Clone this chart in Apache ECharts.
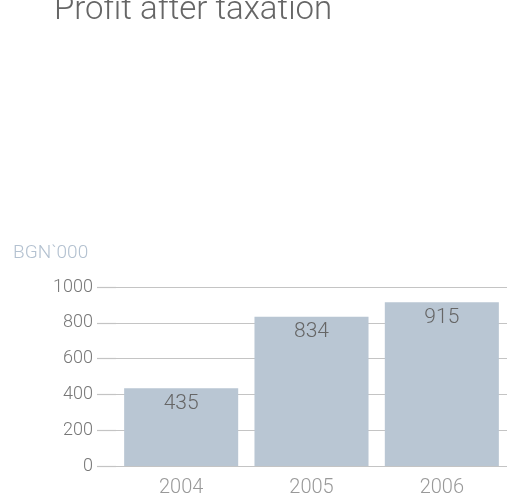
<!DOCTYPE html>
<html><head><meta charset="utf-8">
<script src="https://cdn.jsdelivr.net/npm/echarts@6/dist/echarts.min.js"></script>
<style>html,body{margin:0;padding:0;background:#fff}#c{width:507px;height:494px}</style>
</head><body><div id="c"></div>
<script>
const categories = ['2004', '2005', '2006'];
const profit = [435, 834, 915];
const yTicks = [0, 200, 400, 600, 800, 1000];

const chart = echarts.init(document.getElementById('c'));
chart.setOption({
  animation: false,
  title: {
    text: 'Profit after taxation',
    left: 49, top: -11,
    textStyle: { fontFamily: 'Roboto', fontSize: 33, fontWeight: 300, color: '#666' }
  },
  graphic: [{
    type: 'text', left: 13, top: 244,
    style: { text: 'BGN`000', fontFamily: 'Roboto', fontWeight: 300, fontSize: 19, fill: '#b3c1d0' }
  }],
  grid: { left: 116, right: 0, top: 287, bottom: 28, outerBoundsMode: 'none', containLabel: false },
  xAxis: {
    type: 'category', data: categories,
    axisLine: { show: false }, axisTick: { show: false },
    axisLabel: { fontFamily: 'Roboto', fontWeight: 300, fontSize: 20, color: '#999', margin: 12 }
  },
  yAxis: {
    type: 'value', min: yTicks[0], max: yTicks[yTicks.length - 1], interval: 200,
    axisLine: { show: false },
    axisTick: { show: true, length: 19, lineStyle: { color: '#c4c4c4', width: 1.2 } },
    splitLine: { lineStyle: { color: '#c4c4c4', width: 1.2 } },
    axisLabel: { fontFamily: 'Roboto', fontWeight: 300, fontSize: 18, color: '#777', margin: 23,
      formatter: v => String(v) }
  },
  series: [{
    type: 'bar', data: profit, barCategoryGap: '12.5%',
    itemStyle: { color: '#b9c6d3' },
    label: { show: true, position: 'insideTop', distance: 5, fontFamily: 'Roboto', fontWeight: 300, fontSize: 21, color: '#666' }
  }]
});
</script></body></html>
